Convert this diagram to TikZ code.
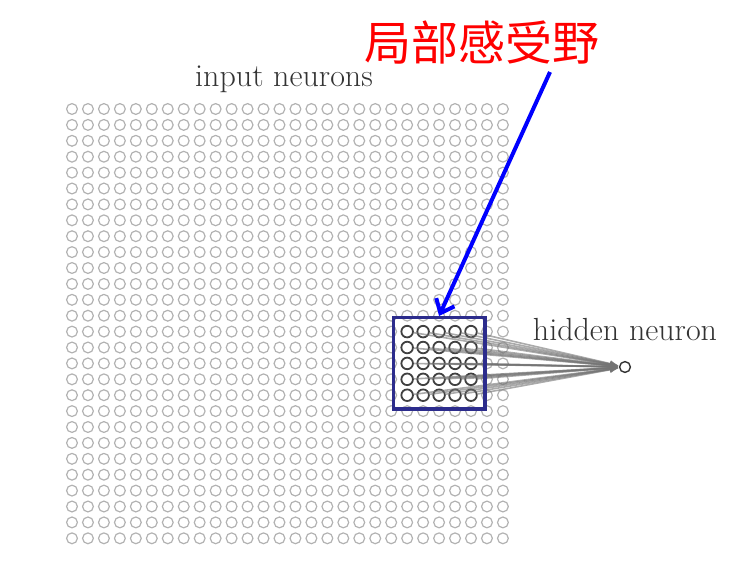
\documentclass[tikz,border=0pt]{standalone}
\usepackage{fontspec}
\newfontfamily\cjk{Noto Sans CJK SC}
\usetikzlibrary{arrows.meta,fit}
\definecolor{boxblue}{RGB}{44,44,140}
\tikzset{
  neuron/.style={circle,draw=black!30,line width=0.6pt,minimum size=5.4pt,inner sep=0pt},
  field/.style={circle,draw=black!75,line width=0.9pt,minimum size=5.8pt,inner sep=0pt,fill=white},
  hidden/.style={circle,draw=black!80,line width=0.7pt,minimum size=5.4pt,inner sep=0pt},
  link/.style={black!55,opacity=0.6,line width=0.8pt,-{Latex[length=4.5pt,width=3.5pt]}},
  caption/.style={text=black!80,font=\fontsize{16}{19}\selectfont}
}
\begin{document}
\begin{tikzpicture}[x=0.5pt,y=-0.5pt]
        \useasboundingbox (0,0) rectangle (729,575);
        \foreach \i in {0,...,27}
            {
                \foreach \j in {0,...,27}
                    {
                        \node[neuron] (n-\i-\j) at (72+15.96*\i,109+15.9*\j) {};
                    }
            }
        \foreach \i in {21,...,25}
            {
                \foreach \j in {14,...,18}
                    {
                        \node[field] (f-\i-\j) at (n-\i-\j) {};
                    }
            }
        \node[hidden] (hid) at (625,367) {};
        \foreach \i in {21,...,25}
            {
                \foreach \j in {14,...,18}
                    {
                        \draw[link] (f-\i-\j) -- (hid);
                    }
            }
        \node[draw=boxblue,line width=1.7pt,inner sep=3.6pt,fit=(f-21-14)(f-25-18)] (rf) {};
        \node[caption] (inlabel) at (284,79) {input neurons};
        \node[caption] (hidlabel) at (625,330) {hidden neuron};
        \node[text=red,font=\cjk\fontsize{23.5}{28}\selectfont] (rflabel) at (482,43) {局部感受野};
        \coordinate (tail) at (550,72);
        \draw[blue,line width=2pt,-{Straight Barb[length=6pt,width=10pt]}] (tail) -- (rf.north);
    \end{tikzpicture}
\end{document}
